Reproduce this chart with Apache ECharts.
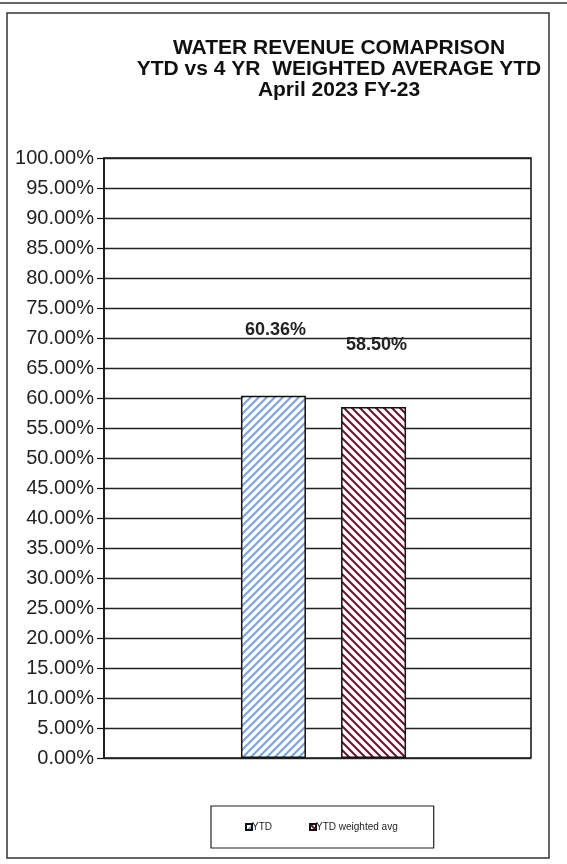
<!DOCTYPE html>
<html lang="en">
<head>
  <meta charset="UTF-8">
  <title>Water Revenue Comparison</title>
  <style type="text/css">
    html, body { margin: 0; padding: 0; background: #fff; }
    #main { width: 567px; height: 864px; }
  </style>
</head>
<body>
  <div id="main"></div>
  <script type="text/javascript" src="https://cdn.jsdelivr.net/npm/echarts@6/dist/echarts.min.js"></script>
  <script type="text/javascript">
    // data
    var seriesNames = ['YTD', 'YTD weighted avg'];
    var ytdValues = [0.6036];
    var weightedValues = [0.585];
    var titleLines = ['WATER REVENUE COMAPRISON', 'YTD vs 4 YR  WEIGHTED AVERAGE YTD', 'April 2023 FY-23'];

    // hatch fill for the bars
    function hatch(color, bg, dir) {
      var c = document.createElement('canvas');
      c.width = 8; c.height = 8;
      var ctx = c.getContext('2d');
      ctx.fillStyle = bg;
      ctx.fillRect(0, 0, 8, 8);
      ctx.strokeStyle = color;
      ctx.lineWidth = 2.2;
      ctx.beginPath();
      if (dir > 0) {
        ctx.moveTo(-2, 10); ctx.lineTo(10, -2);
        ctx.moveTo(-2, 2); ctx.lineTo(2, -2);
        ctx.moveTo(6, 10); ctx.lineTo(10, 6);
      } else {
        ctx.moveTo(-2, -2); ctx.lineTo(10, 10);
        ctx.moveTo(-2, 6); ctx.lineTo(2, 10);
        ctx.moveTo(6, -2); ctx.lineTo(10, 2);
      }
      ctx.stroke();
      return { image: c, repeat: 'repeat' };
    }

    function pct(v) { return (v * 100).toFixed(2) + '%'; }

    var myChart = echarts.init(document.getElementById('main'));
    var font = '"Liberation Sans", Arial, sans-serif';

    var option = {
      backgroundColor: '#fff',
      animation: false,
      textStyle: { fontFamily: font },
      title: {
        text: titleLines.join('\n'),
        left: 334,
        top: 33,
        textAlign: 'center',
        textStyle: { fontSize: 21, fontWeight: 'bold', color: '#111', lineHeight: 21, fontFamily: font }
      },
      legend: {
        data: seriesNames,
        left: 211,
        top: 806,
        padding: [16, 36, 16, 34],
        borderColor: '#222',
        borderWidth: 1.2,
        itemWidth: 6,
        itemHeight: 6,
        itemGap: 37,
        icon: 'rect',
        textStyle: { fontSize: 10, color: '#222', padding: [0, 0, 0, -5] }
      },
      // grid 0 carries the visible axes, grid 1 (shifted a little right) carries the bars
      grid: [
        { left: 104, right: 36, top: 158, bottom: 106, show: true, borderColor: '#111', borderWidth: 1.5 },
        { left: 110, right: 30, top: 158, bottom: 106 }
      ],
      xAxis: [{
        type: 'category', gridIndex: 0, data: [''],
        axisLine: { show: false }, axisTick: { show: false }, axisLabel: { show: false }
      }, {
        type: 'category', gridIndex: 1, data: [''],
        axisLine: { show: false }, axisTick: { show: false }, axisLabel: { show: false }
      }],
      yAxis: [{
        type: 'value',
        gridIndex: 0,
        min: 0,
        max: 1,
        interval: 0.05,
        axisLine: { show: true, lineStyle: { color: '#111', width: 1.5 } },
        axisTick: { show: true, length: 7, lineStyle: { color: '#111', width: 1.2 } },
        axisLabel: { fontSize: 20, color: '#222', margin: 10, formatter: pct },
        splitLine: { show: true, lineStyle: { color: '#222', width: 1.3 } }
      }, {
        type: 'value', gridIndex: 1, min: 0, max: 1, interval: 0.05, show: false,
        splitLine: { show: false }
      }],
      series: [{
        name: seriesNames[0],
        type: 'bar',
        xAxisIndex: 1,
        yAxisIndex: 1,
        data: ytdValues,
        barWidth: 65,
        barGap: '54%',
        itemStyle: { color: hatch('#7aa6e0', '#ffffff', 1), borderColor: '#111', borderWidth: 1.5 },
        label: {
          show: true, position: 'top', offset: [2, -52],
          fontSize: 18, fontWeight: 'bold', color: '#222',
          formatter: function (p) { return pct(p.value); }
        }
      }, {
        name: seriesNames[1],
        type: 'bar',
        xAxisIndex: 1,
        yAxisIndex: 1,
        data: weightedValues,
        barWidth: 65,
        itemStyle: { color: hatch('#6b1a36', '#ffffff', -1), borderColor: '#111', borderWidth: 1.5 },
        label: {
          show: true, position: 'top', offset: [3, -48],
          fontSize: 18, fontWeight: 'bold', color: '#222',
          formatter: function (p) { return pct(p.value); }
        }
      }],
      graphic: [
        { type: 'line', shape: { x1: 0, y1: 3, x2: 567, y2: 3 }, style: { stroke: '#333', lineWidth: 1.5 } },
        { type: 'rect', shape: { x: 7, y: 13, width: 542, height: 845 }, style: { fill: 'none', stroke: '#333', lineWidth: 1.5 } }
      ]
    };
    myChart.setOption(option);
  </script>
</body>
</html>
